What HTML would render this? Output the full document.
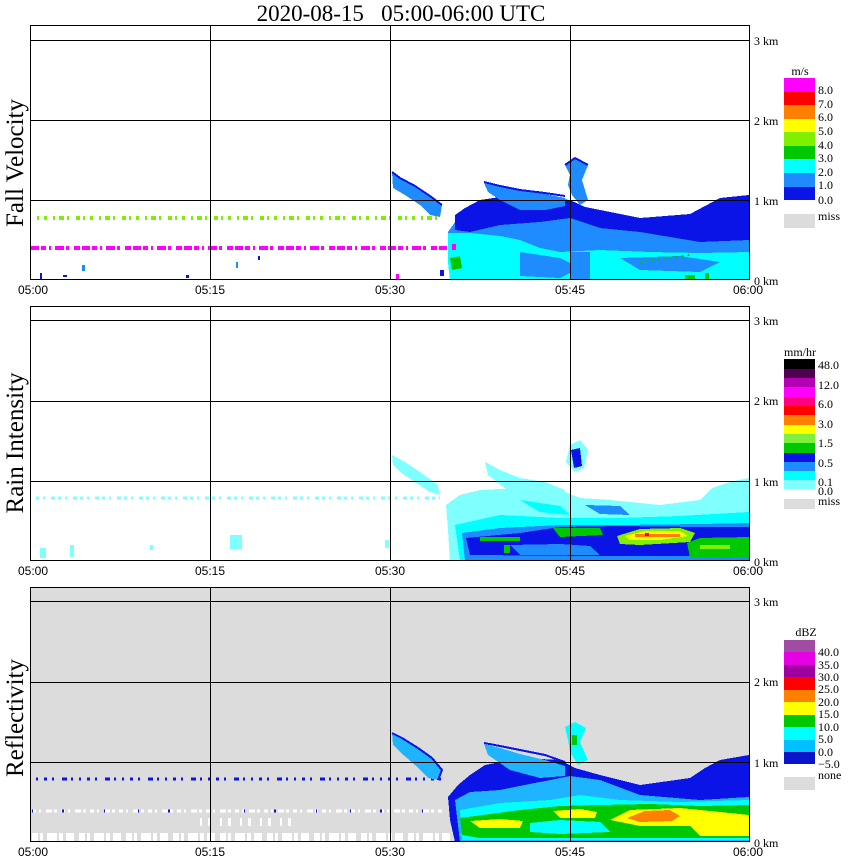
<!DOCTYPE html>
<html><head><meta charset="utf-8"><style>
html,body{margin:0;padding:0;background:#fff;}
svg{display:block;}
.t{font-family:"Liberation Sans",sans-serif;font-size:12px;}
.s{font-family:"Liberation Serif",serif;font-size:12px;}
</style></head><body>
<svg width="850" height="868" viewBox="0 0 850 868" xmlns="http://www.w3.org/2000/svg" shape-rendering="crispEdges">
<text x="401" y="21" text-anchor="middle" font-family="Liberation Serif,serif" font-size="23" style="white-space:pre" xml:space="preserve">2020-08-15   05:00-06:00 UTC</text>

<!-- ========== PANEL 1 ========== -->
<g>
<rect x="30" y="25" width="720" height="255" fill="#fff"/>
<line x1="37" y1="218" x2="442" y2="218" stroke="#7cf000" stroke-width="4" stroke-dasharray="2 5 3 6 2 4 5 3 2 7 4 3"/>
<line x1="31" y1="248" x2="450" y2="248" stroke="#ff00ff" stroke-width="4" stroke-dasharray="8 2 5 3 2 4 9 2 3 5 6 2"/>
<polygon points="392,172 400,178 415,186 430,196 442,205 440,217 430,215 420,205 405,195 393,188" fill="#1e8cff"/>
<polyline points="392,172 400,178 415,186 430,196 442,205" fill="none" stroke="#0a14e6" stroke-width="2"/>
<polygon points="448,232 460,215 480,205 500,200 540,198 570,200 585,208 600,212 640,222 690,218 705,208 720,200 749,196 749,280 450,280" fill="#1e8cff"/>
<polygon points="455,215 465,208 480,200 500,197 540,197 570,200 585,207 600,210 640,218 690,214 705,206 720,198 749,195 749,240 700,242 640,232 600,228 570,218 540,222 500,225 470,232 455,230" fill="#0a14e6"/>
<polygon points="484,183 500,187 520,191 545,194 565,198 565,206 545,210 520,210 500,200 488,192" fill="#1e8cff"/>
<polyline points="484,182 500,186 520,190 545,193 565,196" fill="none" stroke="#0a14e6" stroke-width="2"/>
<polygon points="565,165 575,158 588,165 582,180 588,200 580,205 572,195 568,185 570,175" fill="#1e8cff"/>
<polyline points="565,165 575,158 588,165" fill="none" stroke="#0a14e6" stroke-width="2"/>
<polygon points="448,233 470,233 500,236 520,240 540,248 560,252 600,250 650,252 700,253 749,252 749,280 450,280 448,262" fill="#00ffff"/>
<polygon points="520,252 560,258 580,268 560,278 520,276" fill="#1e8cff"/>
<polygon points="620,258 680,256 720,262 700,272 640,270" fill="#1e8cff"/>
<rect x="570" y="252" width="20" height="28" fill="#1e8cff"/>
<polygon points="450,258 460,256 462,268 452,270" fill="#00c800"/>
<rect x="452" y="244" width="4" height="6" fill="#ff00ff"/>
<line x1="640" y1="262" x2="690" y2="255" stroke="#00c800" stroke-width="2" stroke-dasharray="2 4"/>
<rect x="685" y="275" width="10" height="4" fill="#00c800"/>
<rect x="705" y="273" width="4" height="6" fill="#00c800"/>
<rect x="40" y="273" width="2" height="6" fill="#0a14e6"/><rect x="63" y="275" width="4" height="2" fill="#0a14e6"/><rect x="82" y="265" width="3" height="6" fill="#1e8cff"/><rect x="186" y="275" width="3" height="3" fill="#0a14e6"/><rect x="236" y="262" width="2" height="6" fill="#1e8cff"/><rect x="258" y="256" width="2" height="4" fill="#0a14e6"/><rect x="396" y="274" width="3" height="6" fill="#ff00ff"/><rect x="440" y="270" width="4" height="6" fill="#0a14e6"/>
<g stroke="#000" stroke-width="1" fill="none">
<rect x="30.5" y="25.5" width="719" height="254"/>
<line x1="30" y1="40.5" x2="750" y2="40.5"/>
<line x1="30" y1="120.5" x2="750" y2="120.5"/>
<line x1="30" y1="200.5" x2="750" y2="200.5"/>
<line x1="210.5" y1="25" x2="210.5" y2="280"/>
<line x1="390.5" y1="25" x2="390.5" y2="280"/>
<line x1="570.5" y1="25" x2="570.5" y2="280"/>
</g>
<g class="s"><text x="754" y="45">3 km</text><text x="754" y="125">2 km</text><text x="754" y="205">1 km</text><text x="754" y="285">0 km</text></g>
<g class="t" text-anchor="middle"><text x="33" y="294">05:00</text><text x="210" y="294">05:15</text><text x="390" y="294">05:30</text><text x="570" y="294">05:45</text><text x="748" y="294">06:00</text></g>
<text transform="translate(23,163) rotate(-90)" text-anchor="middle" font-family="Liberation Serif,serif" font-size="25">Fall Velocity</text>
<text x="800" y="75" text-anchor="middle" class="s" font-size="11">m/s</text>
<rect x="784" y="78" width="31" height="14" fill="#ff00ff"/>
<rect x="784" y="92" width="31" height="13" fill="#ff0000"/>
<rect x="784" y="105" width="31" height="14" fill="#ff8000"/>
<rect x="784" y="119" width="31" height="13" fill="#ffff00"/>
<rect x="784" y="132" width="31" height="14" fill="#80f000"/>
<rect x="784" y="146" width="31" height="13" fill="#00c800"/>
<rect x="784" y="159" width="31" height="14" fill="#00ffff"/>
<rect x="784" y="173" width="31" height="14" fill="#1e8cff"/>
<rect x="784" y="187" width="31" height="13" fill="#0a14e6"/>
<rect x="784" y="214" width="31" height="14" fill="#dcdcdc"/>
<g class="s" font-size="11"><text x="818" y="94">8.0</text><text x="818" y="108">7.0</text><text x="818" y="121">6.0</text><text x="818" y="135">5.0</text><text x="818" y="149">4.0</text><text x="818" y="162">3.0</text><text x="818" y="176">2.0</text><text x="818" y="189">1.0</text><text x="818" y="204">0.0</text><text x="818" y="220">miss</text></g>
</g>

<!-- ========== PANEL 2 ========== -->
<g>
<rect x="30" y="306" width="720" height="255" fill="#fff"/>
<line x1="36" y1="498" x2="440" y2="498" stroke="#80ffff" stroke-width="3" stroke-dasharray="3 4 2 6 4 3"/>
<rect x="40" y="548" width="6" height="10" fill="#80ffff"/><rect x="70" y="545" width="4" height="12" fill="#80ffff"/><rect x="230" y="535" width="12" height="14" fill="#80ffff"/><rect x="150" y="545" width="3" height="5" fill="#80ffff"/><rect x="385" y="540" width="4" height="8" fill="#80ffff"/>
<polygon points="392,455 405,462 420,472 438,485 440,495 430,492 415,482 400,472 393,465" fill="#80ffff"/>
<polygon points="485,462 500,470 520,478 545,482 565,490 560,500 530,498 505,488 488,475" fill="#80ffff"/>
<polygon points="570,445 580,440 588,450 584,468 575,472 566,462" fill="#80ffff"/>
<polygon points="571,450 580,448 582,466 574,468" fill="#0a14e6"/>
<polygon points="446,505 460,495 480,490 520,488 560,490 580,498 610,500 660,505 700,500 712,488 730,482 749,478 749,561 450,561 448,530" fill="#80ffff"/>
<polygon points="520,500 560,506 570,515 540,512" fill="#00ffff"/>
<polygon points="585,505 620,506 630,515 600,514" fill="#1e8cff"/>
<polygon points="455,525 500,515 560,518 620,518 680,516 749,512 749,561 460,561" fill="#00ffff"/>
<polygon points="462,533 500,528 560,525 620,525 700,524 749,523 749,561 465,561" fill="#1e8cff"/>
<polygon points="466,538 520,533 560,527 620,526 700,527 749,527 749,558 600,556 470,555" fill="#0a14e6"/>
<rect x="470" y="556" width="279" height="5" fill="#1e8cff"/>
<polygon points="510,545 560,544 590,546 600,555 520,555" fill="#1e8cff"/>
<rect x="480" y="537" width="40" height="4" fill="#00c800"/>
<rect x="504" y="545" width="6" height="8" fill="#00c800"/>
<polygon points="553,528 600,528 603,535 560,537" fill="#00c800"/>
<polygon points="617,536 640,529 680,528 695,533 690,542 640,545 620,544" fill="#80f000"/>
<polygon points="625,536 645,531 680,531 688,536 660,540 630,540" fill="#ffff00"/>
<rect x="635" y="534" width="45" height="3" fill="#ff8000"/>
<rect x="645" y="533" width="4" height="3" fill="#ff0000"/>
<polygon points="687,543 700,538 749,537 749,557 690,557" fill="#00c800"/>
<rect x="700" y="545" width="30" height="4" fill="#80f000"/>
<g stroke="#000" stroke-width="1" fill="none">
<rect x="30.5" y="306.5" width="719" height="254"/>
<line x1="30" y1="320.5" x2="750" y2="320.5"/>
<line x1="30" y1="401.5" x2="750" y2="401.5"/>
<line x1="30" y1="481.5" x2="750" y2="481.5"/>
<line x1="210.5" y1="306" x2="210.5" y2="561"/>
<line x1="390.5" y1="306" x2="390.5" y2="561"/>
<line x1="570.5" y1="306" x2="570.5" y2="561"/>
</g>
<g class="s"><text x="754" y="325">3 km</text><text x="754" y="405">2 km</text><text x="754" y="486">1 km</text><text x="754" y="566">0 km</text></g>
<g class="t" text-anchor="middle"><text x="33" y="575">05:00</text><text x="210" y="575">05:15</text><text x="390" y="575">05:30</text><text x="570" y="575">05:45</text><text x="748" y="575">06:00</text></g>
<text transform="translate(23,443) rotate(-90)" text-anchor="middle" font-family="Liberation Serif,serif" font-size="25">Rain Intensity</text>
<text x="800" y="356" text-anchor="middle" class="s" font-size="11">mm/hr</text>
<rect x="784" y="359" width="31" height="10" fill="#000"/>
<rect x="784" y="369" width="31" height="9" fill="#500050"/>
<rect x="784" y="378" width="31" height="9" fill="#b400b4"/>
<rect x="784" y="387" width="31" height="10" fill="#ff00ff"/>
<rect x="784" y="397" width="31" height="9" fill="#ff0080"/>
<rect x="784" y="406" width="31" height="9" fill="#ff0000"/>
<rect x="784" y="415" width="31" height="10" fill="#ff8000"/>
<rect x="784" y="425" width="31" height="9" fill="#ffff00"/>
<rect x="784" y="434" width="31" height="9" fill="#80f040"/>
<rect x="784" y="443" width="31" height="10" fill="#00c800"/>
<rect x="784" y="453" width="31" height="9" fill="#0a14e6"/>
<rect x="784" y="462" width="31" height="9" fill="#1e8cff"/>
<rect x="784" y="471" width="31" height="9" fill="#00ffff"/>
<rect x="784" y="480" width="31" height="9" fill="#80ffff"/>
<rect x="784" y="499" width="31" height="10" fill="#dcdcdc"/>
<g class="s" font-size="11"><text x="818" y="369">48.0</text><text x="818" y="389">12.0</text><text x="818" y="408">6.0</text><text x="818" y="428">3.0</text><text x="818" y="447">1.5</text><text x="818" y="467">0.5</text><text x="818" y="486">0.1</text><text x="818" y="495">0.0</text><text x="818" y="505">miss</text></g>
</g>

<!-- ========== PANEL 3 ========== -->
<g>
<rect x="30" y="587" width="720" height="255" fill="#dcdcdc"/>
<line x1="36" y1="779" x2="445" y2="779" stroke="#0a14e6" stroke-width="3" stroke-dasharray="2 6 3 5 2 8 5 4 2 6"/>
<line x1="32" y1="811" x2="445" y2="811" stroke="#ffffff" stroke-width="3" stroke-dasharray="4 3 2 5 6 2 3 4"/>
<line x1="32" y1="811" x2="445" y2="811" stroke="#0a14e6" stroke-width="3" stroke-dasharray="1 29 2 40 1 33"/>
<line x1="32" y1="837" x2="450" y2="837" stroke="#ffffff" stroke-width="8" stroke-dasharray="6 2 3 4 10 2 4 3 8 5"/>
<line x1="200" y1="822" x2="300" y2="822" stroke="#ffffff" stroke-width="8" stroke-dasharray="2 6 3 9"/>
<polygon points="392,733 402,738 418,748 432,758 442,770 438,780 428,778 415,765 400,752 393,745" fill="#1eb4ff"/>
<polyline points="392,733 402,738 418,748 432,758 442,770 438,780" fill="none" stroke="#0a14e6" stroke-width="2"/>
<polygon points="448,797 458,785 470,775 485,765 520,758 560,760 575,768 600,775 640,785 690,778 705,768 720,760 749,755 749,842 455,842 450,820" fill="#0a14e6"/>
<polygon points="484,744 500,748 520,754 545,760 565,766 565,776 540,778 510,770 488,755" fill="#1eb4ff"/>
<polyline points="484,743 500,746 520,750 545,755 565,762" fill="none" stroke="#0a14e6" stroke-width="2"/>
<polygon points="565,727 575,722 586,728 580,742 588,760 578,765 570,752 568,740" fill="#00ffff"/>
<rect x="572" y="735" width="5" height="10" fill="#00c800"/>
<polygon points="455,800 470,792 500,790 540,782 570,776 600,780 640,795 700,800 749,797 749,842 460,842" fill="#1eb4ff"/>
<polygon points="460,810 500,803 550,800 580,795 620,800 680,802 749,800 749,840 462,840" fill="#00ffff"/>
<polygon points="460,818 520,810 560,806 600,805 650,804 700,806 749,805 749,838 480,838 462,835" fill="#00c800"/>
<polygon points="530,823 560,820 600,822 610,832 560,834 530,832" fill="#00ffff"/>
<polygon points="470,821 500,819 523,821 520,828 480,828" fill="#ffff00"/>
<polygon points="553,811 580,809 597,812 595,818 560,818" fill="#ffff00"/>
<polygon points="610,820 630,810 680,808 720,812 749,815 749,836 700,836 690,826 640,826" fill="#ffff00"/>
<polygon points="627,818 645,811 670,810 680,816 672,821 640,822" fill="#ff8000"/>
<g stroke="#000" stroke-width="1" fill="none">
<rect x="30.5" y="587.5" width="719" height="254"/>
<line x1="30" y1="601.5" x2="750" y2="601.5"/>
<line x1="30" y1="682.5" x2="750" y2="682.5"/>
<line x1="30" y1="762.5" x2="750" y2="762.5"/>
<line x1="210.5" y1="587" x2="210.5" y2="842"/>
<line x1="390.5" y1="587" x2="390.5" y2="842"/>
<line x1="570.5" y1="587" x2="570.5" y2="842"/>
</g>
<g class="s"><text x="754" y="606">3 km</text><text x="754" y="686">2 km</text><text x="754" y="767">1 km</text><text x="754" y="847">0 km</text></g>
<g class="t" text-anchor="middle"><text x="33" y="856">05:00</text><text x="210" y="856">05:15</text><text x="390" y="856">05:30</text><text x="570" y="856">05:45</text><text x="748" y="856">06:00</text></g>
<text transform="translate(23,718) rotate(-90)" text-anchor="middle" font-family="Liberation Serif,serif" font-size="25">Reflectivity</text>
<text x="806" y="636" text-anchor="middle" class="s" font-size="11">dBZ</text>
<rect x="784" y="640" width="31" height="12" fill="#a04ca0"/>
<rect x="784" y="652" width="31" height="13" fill="#e600e6"/>
<rect x="784" y="665" width="31" height="12" fill="#a000a0"/>
<rect x="784" y="677" width="31" height="13" fill="#ff0000"/>
<rect x="784" y="690" width="31" height="12" fill="#ff8000"/>
<rect x="784" y="702" width="31" height="13" fill="#ffff00"/>
<rect x="784" y="715" width="31" height="12" fill="#00c800"/>
<rect x="784" y="727" width="31" height="13" fill="#00ffff"/>
<rect x="784" y="740" width="31" height="12" fill="#00c0ff"/>
<rect x="784" y="752" width="31" height="12" fill="#0a14c8"/>
<rect x="784" y="777" width="31" height="13" fill="#dcdcdc"/>
<g class="s" font-size="11"><text x="818" y="656">40.0</text><text x="818" y="669">35.0</text><text x="818" y="681">30.0</text><text x="818" y="693">25.0</text><text x="818" y="706">20.0</text><text x="818" y="718">15.0</text><text x="818" y="731">10.0</text><text x="818" y="743">5.0</text><text x="818" y="756">0.0</text><text x="818" y="768">−5.0</text><text x="818" y="779">none</text></g>
</g>
</svg>
</body></html>
